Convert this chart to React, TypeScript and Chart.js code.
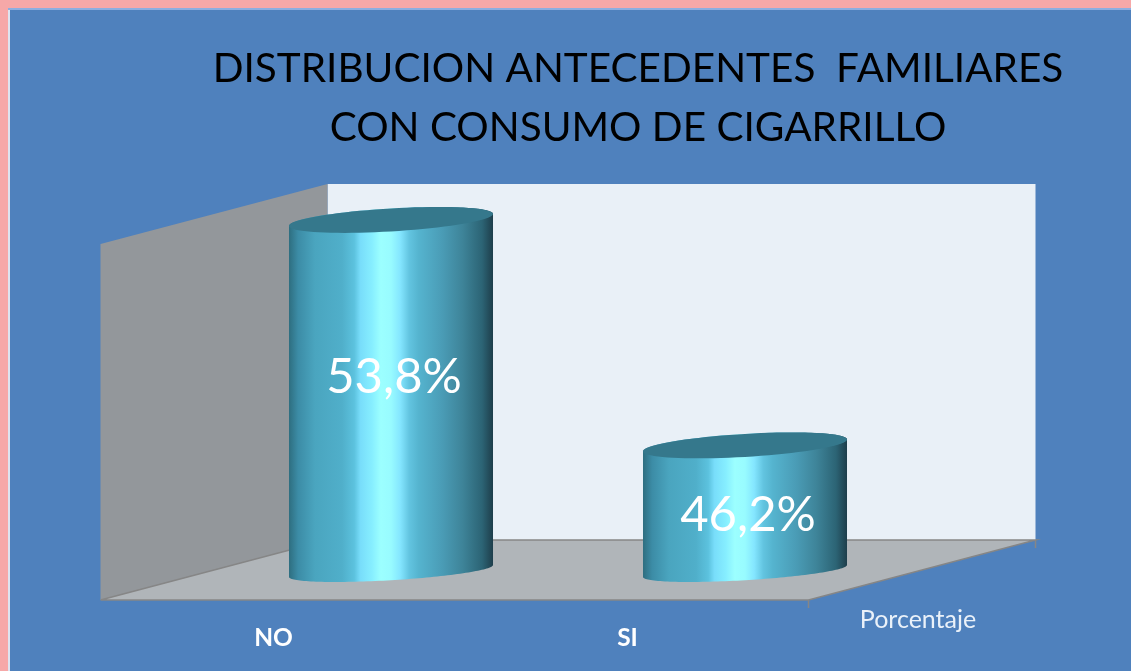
import React, { useEffect, useRef } from "react";
import { Chart, registerables } from "chart.js";

Chart.register(...registerables);

const categories = ["NO", "SI"];
const seriesName = "Porcentaje";
const values = [53.8, 46.2];
const titleLines = ["DISTRIBUCION ANTECEDENTES  FAMILIARES", "CON CONSUMO DE CIGARRILLO"];
const axisMin = 42;
const axisMax = 54;

const FONT = "Lato, 'Noto Sans', sans-serif";
const DEPTH_X = 113.5;
const DEPTH_Y = 30;
const SLOPE = 6 / 102;
const labelShift = [-18, 8];
const gradientStops: [number, string][] = [
  [0, "#2E6E80"],
  [0.045, "#3C8CA6"],
  [0.127, "#4AA5BF"],
  [0.26, "#50AFCA"],
  [0.32, "#5CC2DE"],
  [0.35, "#78DDFA"],
  [0.406, "#86EEFF"],
  [0.45, "#9CFFFF"],
  [0.5, "#98FBFF"],
  [0.545, "#84E6FF"],
  [0.59, "#62C4E0"],
  [0.635, "#55B4CF"],
  [0.75, "#4A9CB6"],
  [0.85, "#3E8499"],
  [0.946, "#2C6475"],
  [1, "#1E3E4B"],
];

function arc(ctx: CanvasRenderingContext2D, cx: number, cy: number, a: number, b: number, from: number, to: number, first: boolean) {
  const steps = 80;
  for (let i = 0; i <= steps; i++) {
    const t = from + ((to - from) * i) / steps;
    const x = cx + a * Math.cos(t);
    const y = cy - a * SLOPE * Math.cos(t) - b * Math.sin(t);
    if (i === 0 && first) ctx.moveTo(x, y);
    else ctx.lineTo(x, y);
  }
}

const scenePlugin = {
  id: "scene",
  afterLayout(chart: any) {
    if (chart.titleBlock) {
      const mid = (chart.chartArea.left + chart.chartArea.right) / 2 + 70;
      chart.titleBlock.left = mid - 500;
      chart.titleBlock.right = mid + 500;
    }
  },
  beforeDraw(chart: any) {
    const { ctx, width, height, chartArea: c } = chart;
    ctx.save();
    ctx.fillStyle = "#F6A8A8";
    ctx.fillRect(0, 0, width, height);
    ctx.fillStyle = "#DDE4F0";
    ctx.fillRect(8, 8, 2, height);
    ctx.fillStyle = "#8CAEE0";
    ctx.fillRect(8, 8, width, 2);
    ctx.fillStyle = "#4F81BD";
    ctx.fillRect(10, 10, width, height);

    const fl = c.left - DEPTH_X;
    const fr = c.right - DEPTH_X;
    const bl = c.left + DEPTH_X;
    const br = c.right + DEPTH_X;
    const fy = c.bottom + DEPTH_Y;
    const by = c.bottom - DEPTH_Y;
    const ty = c.top - DEPTH_Y;

    const poly = (pts: number[][], fill: string) => {
      ctx.beginPath();
      pts.forEach((p, i) => (i ? ctx.lineTo(p[0], p[1]) : ctx.moveTo(p[0], p[1])));
      ctx.closePath();
      ctx.fillStyle = fill;
      ctx.fill();
    };
    poly([[bl, ty], [br, ty], [br, by], [bl, by]], "#E9F0F7");
    poly([[fl, c.top + DEPTH_Y], [bl, ty], [bl, by], [fl, fy]], "#93979B");
    poly([[fl, fy], [fr, fy], [br, by], [bl, by]], "#B0B5B9");

    ctx.strokeStyle = "#868686";
    ctx.lineWidth = 1.5;
    ctx.beginPath();
    ctx.moveTo(fl, fy);
    ctx.lineTo(fr, fy);
    ctx.lineTo(br, by);
    ctx.lineTo(bl, by);
    ctx.lineTo(fl, fy);
    ctx.moveTo(fr, fy);
    ctx.lineTo(fr, fy + 8);
    ctx.moveTo(br, by);
    ctx.lineTo(br, by + 8);
    ctx.stroke();
    ctx.restore();
  },
  beforeDatasetDraw(chart: any, args: any) {
    const { ctx } = chart;
    const meta = chart.getDatasetMeta(args.index);
    meta.data.forEach((bar: any) => {
      const a = bar.width / 2;
      const top = bar.y;
      const bottom = bar.base + 1;
      ctx.save();
      const g = ctx.createLinearGradient(bar.x - a, 0, bar.x + a, 0);
      gradientStops.forEach(([o, col]) => g.addColorStop(o, col));
      ctx.beginPath();
      arc(ctx, bar.x, top, a, 11.5, Math.PI, 0, true);
      arc(ctx, bar.x, bottom, a, 9.2, 0, -Math.PI, false);
      ctx.closePath();
      ctx.fillStyle = g;
      ctx.fill();
      ctx.beginPath();
      arc(ctx, bar.x, top, a, 11.5, 0, Math.PI * 2, true);
      ctx.closePath();
      ctx.fillStyle = "#35788C";
      ctx.fill();
      ctx.restore();
    });
    return false;
  },
  afterDatasetsDraw(chart: any) {
    const { ctx, chartArea: c } = chart;
    const meta = chart.getDatasetMeta(0);
    ctx.save();
    ctx.textAlign = "center";
    ctx.textBaseline = "middle";
    ctx.fillStyle = "#FFFFFF";
    ctx.font = `400 49px ${FONT}`;
    meta.data.forEach((bar: any, i: number) => {
      const text = values[i].toFixed(1).replace(".", ",") + "%";
      ctx.fillText(text, bar.x + 3, (bar.y + bar.base) / 2 + labelShift[i]);
    });
    ctx.font = `25px ${FONT}`;
    ctx.fillStyle = "#EAF1F9";
    ctx.fillText(seriesName, c.right - 4, c.bottom + 50);
    ctx.restore();
  },
};

export default function App() {
  const ref = useRef<HTMLCanvasElement>(null);
  useEffect(() => {
    document.body.style.margin = "0";
    const chart = new Chart(ref.current as HTMLCanvasElement, {
      type: "bar",
      data: {
        labels: categories,
        datasets: [
          {
            label: seriesName,
            data: values,
            base: axisMin,
            backgroundColor: "#4AABC6",
            barPercentage: 0.5763,
            categoryPercentage: 1,
          },
        ],
      },
      options: {
        animation: false,
        responsive: false,
        layout: { padding: { left: 214, right: 209, top: 39, bottom: 0 } },
        plugins: {
          legend: { display: false },
          tooltip: { enabled: false },
          title: {
            display: true,
            text: titleLines,
            color: "#000000",
            font: { family: FONT, size: 40.5, weight: "normal", lineHeight: 59 / 40.5 },
            padding: { top: 0, bottom: 57 },
          },
        },
        scales: {
          x: {
            grid: { display: false, drawTicks: false },
            border: { display: false },
            afterFit: (scale: any) => {
              scale.height = 101;
            },
            ticks: {
              color: "#FFFFFF",
              font: { family: FONT, size: 24.5, weight: "bold", lineHeight: 26 / 24.5 },
              padding: 55,
              labelOffset: -117.5,
              maxRotation: 0,
              autoSkip: false,
            },
          },
          y: { display: false, min: axisMin, max: axisMax },
        },
      },
      plugins: [scenePlugin],
    } as any);
    return () => chart.destroy();
  }, []);
  return <canvas ref={ref} width={1131} height={671} style={{ display: "block" }} />;
}
